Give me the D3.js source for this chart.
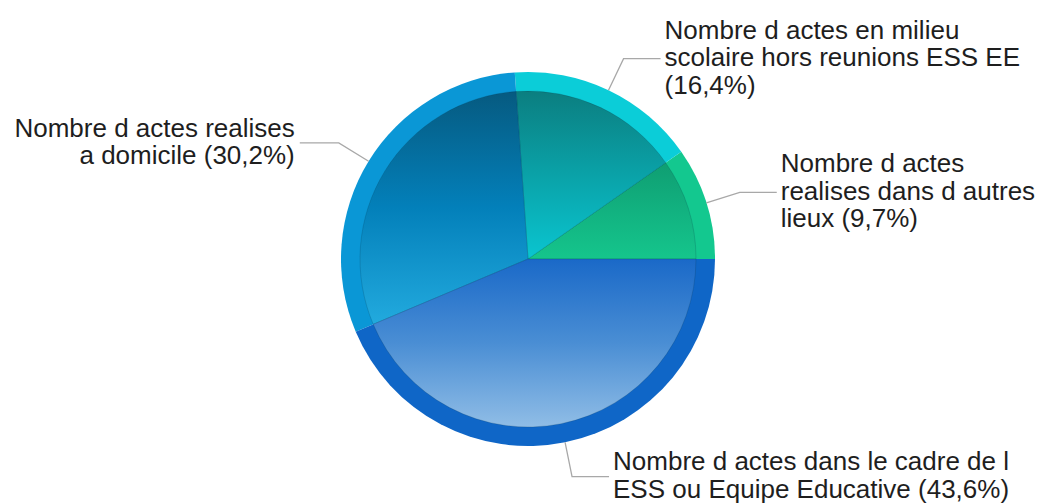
<!DOCTYPE html>
<meta charset="utf-8">
<head>
    <title>Nombre d actes</title>
</head>
<style>
 body { margin: 0; background: #fff; }
 #chart { width: 1040px; height: 504px; }
 .label {
     font-family: "Liberation Sans", Arial, sans-serif;
     font-size: 26px;
     fill: #1e1e1e;
 }
 .leader {
     fill: none;
     stroke: #a8a8a8;
     stroke-width: 1.3px;
 }
</style>
<body>
    <div id="chart"></div>
    <script src="https://d3js.org/d3.v7.min.js"></script>
    <script>

     // data, counter-clockwise from 3 o'clock
     var categories = ["autres lieux", "milieu scolaire", "domicile", "ESS / EE"];
     var shares = [9.7, 16.4, 30.2, 43.6];
     var labelLines = [
         ["Nombre d actes", "realises dans d autres", "lieux (9,7%)"],
         ["Nombre d actes en milieu", "scolaire hors reunions ESS EE", "(16,4%)"],
         ["Nombre d actes realises", "a domicile (30,2%)"],
         ["Nombre d actes dans le cadre de l", "ESS ou Equipe Educative (43,6%)"]
     ];
     var rimColors = ["#13c88f", "#0bcdd8", "#0a97d6", "#0f66c7"];
     var gradTop = ["#0f9e72", "#0b7e80", "#065a80", "#1a69c8"];
     var gradMid = ["#12b280", "#0aa2a8", "#0380ba", "#4a8ed4"];
     var gradBottom = ["#15c58c", "#0ac5d0", "#22aade", "#90bde6"];

     var width = 1040,
         height = 504,
         cx = 528,
         cy = 259,
         outerR = 187,
         innerR = 168,
         lineH = 27.5;

     var svg = d3.select("#chart").append("svg")
                 .attr("width", width)
                 .attr("height", height);

     var defs = svg.append("defs");
     categories.forEach(function(c, i) {
         var g = defs.append("linearGradient")
                     .attr("id", "grad-" + i)
                     .attr("x1", 0).attr("y1", 0)
                     .attr("x2", 0).attr("y2", 1);
         g.append("stop").attr("offset", "0%").attr("stop-color", gradTop[i]);
         g.append("stop").attr("offset", "50%").attr("stop-color", gradMid[i]);
         g.append("stop").attr("offset", "100%").attr("stop-color", gradBottom[i]);
     });

     var pie = d3.pie()
                 .sort(null)
                 .startAngle(Math.PI / 2)
                 .endAngle(Math.PI / 2 - 2 * Math.PI);

     var arcs = pie(shares);

     var rim = d3.arc().innerRadius(0).outerRadius(outerR);
     var inner = d3.arc().innerRadius(0).outerRadius(innerR);

     var g = svg.append("g")
                .attr("transform", "translate(" + cx + "," + cy + ")");

     g.selectAll("path.rim")
      .data(arcs)
      .enter()
      .append("path")
      .attr("class", "rim")
      .attr("fill", function(d, i) { return rimColors[i]; })
      .attr("d", rim);

     g.selectAll("path.inner")
      .data(arcs)
      .enter()
      .append("path")
      .attr("class", "inner")
      .attr("fill", function(d, i) { return "url(#grad-" + i + ")"; })
      .attr("stroke", "rgba(0,40,60,0.22)")
      .attr("stroke-width", 0.8)
      .attr("d", inner);

     function polar(a, r) {
         return [Math.sin(a) * r, -Math.cos(a) * r];
     }

     // leaders + labels
     arcs.forEach(function(d, i) {
         var mid = (d.startAngle + d.endAngle) / 2;
         var p0 = polar(mid, outerR),
             p1 = polar(mid, outerR + 35);
         var right = p1[0] > 0;
         var p2 = [p1[0] + (right ? 37 : -39), p1[1]];

         g.append("path")
          .attr("class", "leader")
          .attr("d", d3.line()([p0, p1, p2]));

         var lines = labelLines[i];
         var tx = p2[0] + (right ? 4 : -5);
         var ty0 = p2[1] - (lines.length - 1) * lineH / 2 + 7.5;

         var t = g.append("text")
                  .attr("class", "label")
                  .attr("text-anchor", right ? "start" : "end");
         lines.forEach(function(s, k) {
             t.append("tspan")
              .attr("x", tx)
              .attr("y", ty0 + k * lineH)
              .text(s);
         });
     });
    </script>
</body>
